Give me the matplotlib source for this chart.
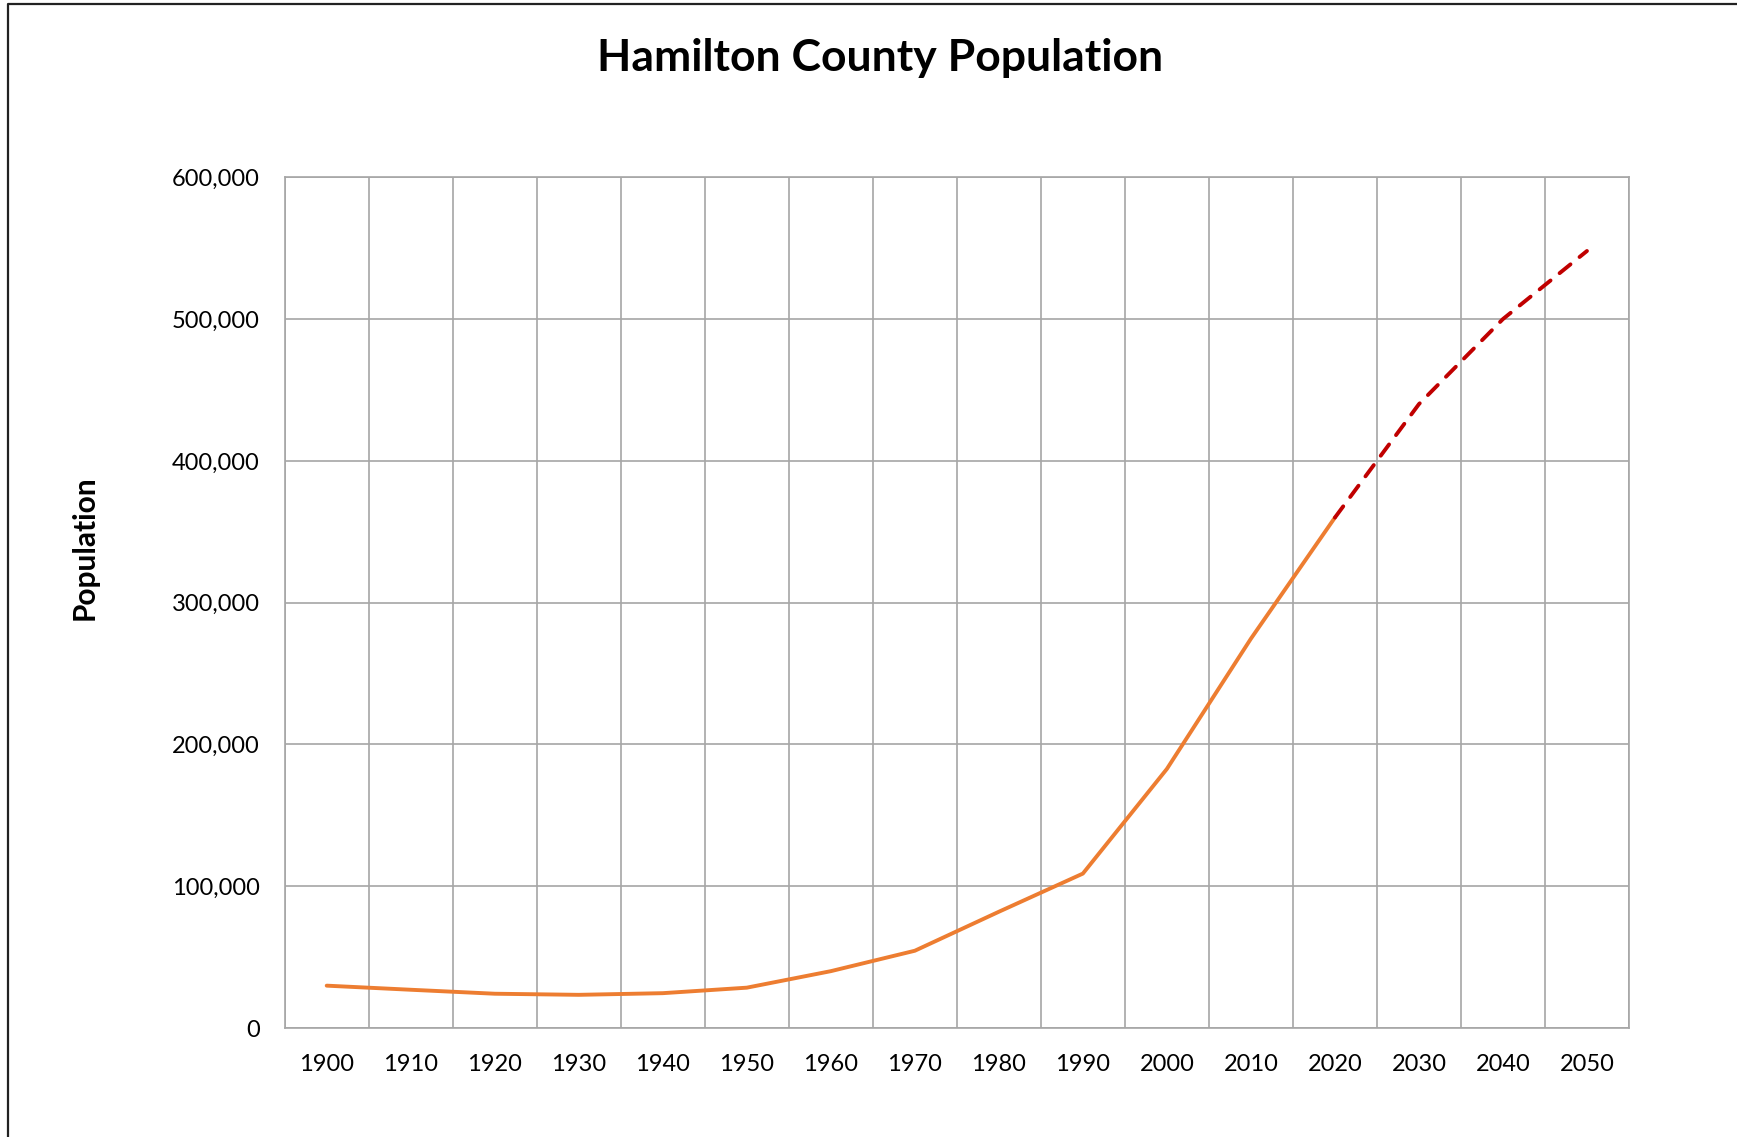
import matplotlib.pyplot as plt
from matplotlib.lines import Line2D
from matplotlib.ticker import FuncFormatter, MultipleLocator
import numpy as np

plt.rcParams['font.family'] = ['Lato', 'DejaVu Sans']

# census counts by decade
years = ['1900', '1910', '1920', '1930', '1940', '1950', '1960', '1970',
         '1980', '1990', '2000', '2010', '2020', '2030', '2040', '2050']
census = [29914, 27026, 24222, 23444, 24614, 28491, 40132, 54532,
          82027, 108936, 182740, 274569, 360000]
# projection picks up from the last census point
projected = [360000, 440000, 500000, 548000]

grid_col = '#a6a6a6'

fig = plt.figure(figsize=(17.37, 11.37), dpi=100)
ax = fig.add_axes([0.1639, 0.0958, 0.7739, 0.7483])

x_all = np.arange(len(years))
ax.plot(x_all[:len(census)], census, color='#ed7d31', lw=2.8,
        solid_capstyle='round', solid_joinstyle='round', zorder=3)
ax.plot(x_all[len(census) - 1:], projected, color='#c00000', lw=2.8,
        dashes=(3.6, 3.0), dash_capstyle='round', zorder=3)

ax.set_xlim(-0.5, len(years) - 0.5)
ax.set_ylim(0, 600000)
ax.set_xticks(x_all)
ax.set_xticklabels(years)
ax.yaxis.set_major_locator(MultipleLocator(100000))
ax.yaxis.set_major_formatter(FuncFormatter(lambda v, p: f'{v:,.0f}'))

# vertical grid sits between categories
ax.set_xticks(np.arange(-0.5, len(years), 1), minor=True)
ax.grid(which='minor', axis='x', color=grid_col, lw=1.2)
ax.grid(which='major', axis='y', color=grid_col, lw=1.2)
ax.set_axisbelow(True)
ax.tick_params(which='both', length=0, labelsize=17, colors='black')
ax.tick_params(axis='x', pad=19)
ax.tick_params(axis='y', pad=18)
for s in ax.spines.values():
    s.set_color(grid_col)
    s.set_linewidth(1.2)

fig.text(0.5066, 0.949, 'Hamilton County Population', ha='center', va='center',
         fontsize=32, fontweight='bold')
fig.text(0.049, 0.518, 'Population', ha='center', va='center', rotation=90,
         fontsize=21.5, fontweight='bold')

# chart frame, clipped on the right and bottom
fig.add_artist(Line2D([7.5 / 1737, 7.5 / 1737, 1], [0, 1 - 4 / 1137, 1 - 4 / 1137],
                      transform=fig.transFigure, color='#222222', lw=1.6))

fig.savefig('out.png', dpi=100)
